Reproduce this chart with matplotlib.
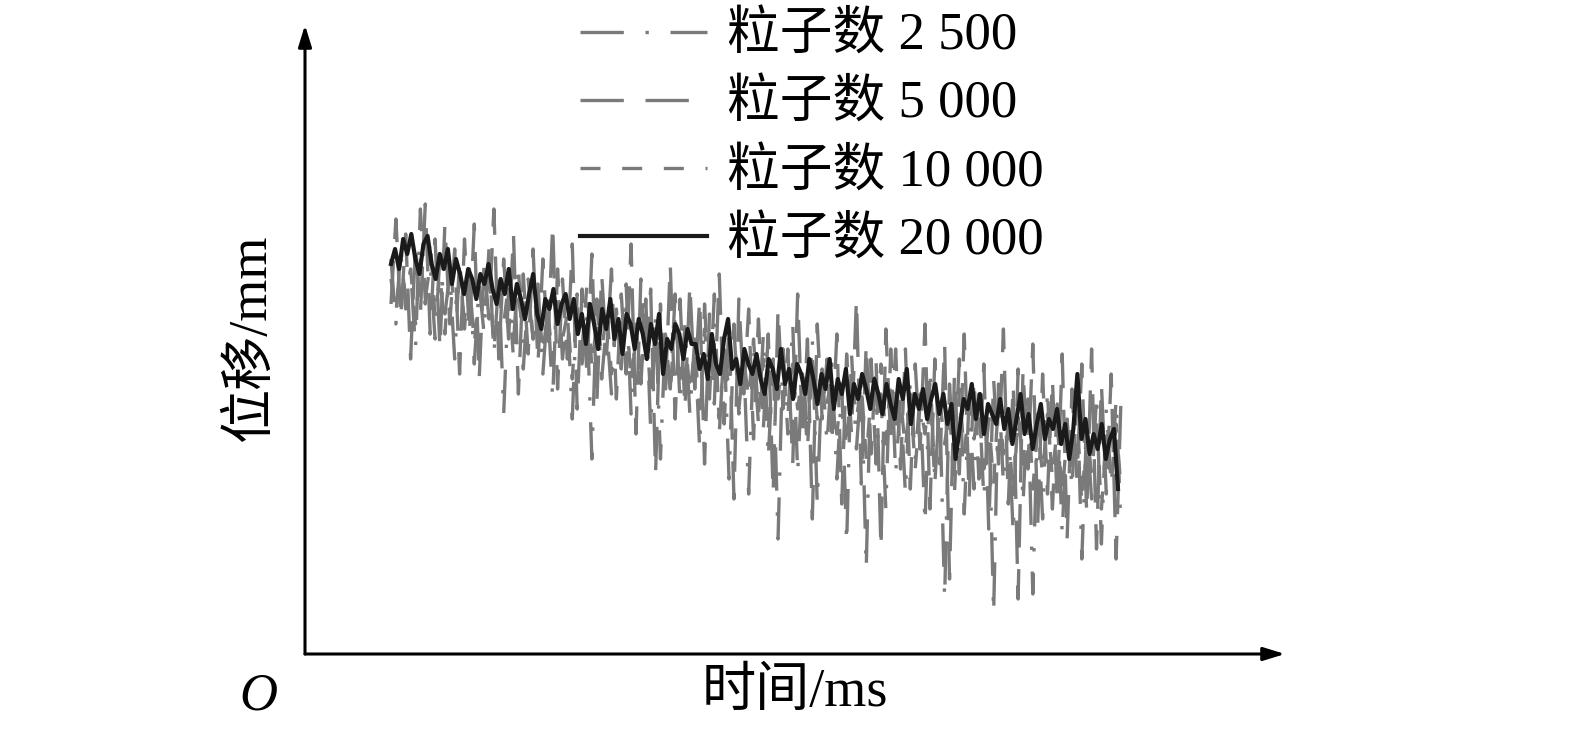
import numpy as np
import matplotlib
matplotlib.use("Agg")
import matplotlib.pyplot as plt

plt.rcParams['font.family'] = ['Liberation Serif', 'Noto Sans CJK SC']

# sample times (ms) and displacement (mm)
t_black = np.linspace(8.6, 81.3, 180)
t_gray = np.linspace(8.6, 81.6, 150)

disp_20000 = [
    3.90, 4.05, 3.85, 4.15, 4.00, 4.20, 3.95, 3.80, 4.10, 4.18, 3.90, 3.75, 4.00, 3.85, 4.05,
    3.70, 3.95, 3.80, 3.60, 3.85, 3.75, 3.55, 3.80, 3.70, 3.90, 3.65, 3.50, 3.75, 3.60, 3.85,
    3.45, 3.70, 3.55, 3.35, 3.60, 3.80, 3.40, 3.25, 3.55, 3.45, 3.65, 3.30, 3.50, 3.60, 3.35,
    3.55, 3.20, 3.40, 3.10, 3.50, 3.30, 3.05, 3.45, 3.25, 3.55, 3.15, 3.35, 3.00, 3.40, 3.30,
    3.05, 3.35, 3.20, 2.95, 3.30, 3.10, 3.40, 2.80, 3.15, 3.05, 3.30, 3.20, 2.95, 3.25, 3.10,
    3.10, 2.85, 3.00, 2.75, 3.20, 2.90, 2.80, 3.15, 3.35, 2.85, 2.95, 2.70, 3.05, 2.90, 2.80,
    3.00, 2.75, 2.60, 2.95, 2.85, 2.65, 3.05, 2.70, 2.85, 2.55, 2.90, 2.80, 2.60, 2.95, 2.75,
    2.50, 2.80, 2.65, 2.95, 2.45, 2.75, 2.60, 2.85, 2.40, 2.70, 2.55, 2.80, 2.65, 2.45, 2.75,
    2.60, 2.40, 2.70, 2.50, 2.35, 2.75, 2.55, 2.85, 2.30, 2.60, 2.45, 2.65, 2.35, 2.55, 2.70,
    2.40, 2.60, 2.30, 2.50, 1.95, 2.25, 2.55, 2.45, 2.70, 2.35, 2.60, 2.20, 2.50, 2.40, 2.30,
    2.55, 2.25, 2.45, 2.10, 2.35, 2.60, 2.20, 2.40, 2.05, 2.30, 2.50, 2.15, 2.35, 2.25, 2.45,
    2.10, 2.30, 1.95, 2.25, 2.80, 2.15, 2.35, 2.00, 2.20, 2.05, 2.30, 1.95, 2.15, 2.25, 1.65,
]

disp_2500 = [
    3.95, 3.30, 4.10, 3.45, 3.85, 3.05, 4.45, 3.55, 3.90, 3.15, 4.00, 3.40, 3.80, 2.95, 3.95,
    3.25, 3.85, 2.90, 3.70, 3.20, 4.05, 3.00, 3.75, 2.40, 3.65, 3.10, 3.90, 2.85, 3.60, 3.15,
    3.70, 2.80, 3.50, 2.55, 3.85, 2.95, 3.45, 2.35, 3.60, 2.90, 3.40, 1.95, 3.55, 2.75, 3.30,
    2.60, 3.45, 2.85, 3.70, 2.40, 3.30, 2.70, 3.55, 2.25, 3.35, 1.95, 3.20, 2.65, 3.60, 2.50,
    3.30, 2.40, 3.15, 2.05, 3.50, 2.55, 3.60, 2.20, 3.10, 1.75, 3.25, 2.45, 2.95, 1.60, 3.05,
    2.30, 3.20, 1.95, 2.95, 1.15, 3.05, 2.35, 3.30, 1.80, 2.90, 2.20, 3.15, 1.50, 2.85, 2.10,
    2.90, 1.75, 2.70, 1.10, 3.00, 2.05, 2.75, 0.85, 2.95, 1.90, 2.60, 1.45, 3.05, 1.80, 2.55,
    1.60, 2.75, 1.95, 2.60, 1.30, 2.85, 1.75, 2.50, 0.55, 2.70, 1.85, 2.95, 1.40, 2.55, 1.65,
    2.60, 1.55, 2.45, 0.40, 2.70, 1.70, 2.35, 1.20, 2.85, 1.50, 2.55, 0.60, 2.40, 1.35, 2.65,
    1.45, 2.50, 1.20, 2.35, 1.65, 2.75, 0.95, 2.30, 1.55, 2.60, 1.10, 2.45, 1.70, 2.55, 1.25,
]

disp_5000 = [
    3.50, 4.35, 3.35, 4.20, 2.95, 4.10, 3.40, 4.50, 3.20, 4.15, 3.05, 4.30, 3.30, 4.05, 2.80,
    4.15, 3.20, 4.30, 2.75, 3.90, 3.35, 4.45, 2.95, 3.95, 3.15, 4.20, 2.60, 3.80, 3.00, 4.05,
    2.90, 3.95, 3.05, 4.30, 2.65, 3.75, 2.95, 4.10, 2.45, 3.65, 2.80, 4.00, 2.50, 3.80, 3.00,
    3.85, 2.55, 3.60, 2.80, 4.10, 2.20, 3.75, 2.90, 3.65, 1.80, 3.50, 2.60, 3.90, 2.35, 3.55,
    2.45, 3.70, 2.65, 3.55, 1.90, 3.40, 2.50, 3.80, 2.30, 3.30, 1.55, 3.55, 2.60, 3.45, 2.15,
    3.35, 2.25, 3.20, 1.60, 3.45, 2.45, 3.05, 1.90, 3.60, 2.15, 3.15, 1.35, 3.30, 2.35, 2.95,
    2.10, 3.20, 1.50, 3.00, 2.20, 3.55, 1.70, 3.10, 2.00, 2.95, 1.05, 3.25, 2.15, 3.05, 1.85,
    3.05, 1.65, 2.90, 2.05, 3.30, 1.45, 2.95, 1.90, 3.10, 0.75, 2.80, 1.80, 3.20, 1.55, 2.75,
    1.75, 2.90, 1.25, 2.75, 1.90, 3.25, 1.50, 2.70, 0.55, 2.85, 1.85, 3.10, 1.30, 2.80, 1.60,
    2.75, 1.50, 3.00, 1.15, 2.65, 1.75, 2.90, 1.40, 3.05, 1.05, 2.70, 1.60, 2.80, 0.95, 2.55,
]

disp_10000 = [
    3.75, 3.40, 4.00, 3.55, 3.85, 3.30, 3.95, 3.50, 4.15, 3.35, 3.80, 3.20, 3.90, 3.45, 3.70,
    3.35, 3.75, 3.10, 3.65, 3.40, 3.85, 3.05, 3.60, 3.30, 3.70, 2.95, 3.55, 3.25, 3.75, 3.15,
    3.55, 3.00, 3.45, 2.90, 3.60, 3.15, 3.40, 2.75, 3.50, 3.05, 3.70, 2.85, 3.35, 3.00, 3.45,
    2.80, 3.35, 2.95, 3.50, 2.70, 3.25, 2.85, 3.45, 2.55, 3.30, 2.90, 3.20, 2.60, 3.40, 2.75,
    3.20, 2.60, 3.05, 2.45, 3.25, 2.70, 3.10, 2.35, 3.00, 2.65, 3.30, 2.40, 2.95, 2.55, 3.15,
    2.40, 2.95, 2.25, 2.85, 2.55, 3.05, 2.20, 2.90, 2.45, 2.80, 2.05, 2.95, 2.35, 2.75, 2.50,
    2.80, 2.20, 2.65, 2.05, 2.85, 2.35, 2.70, 1.95, 2.60, 2.30, 2.90, 2.10, 2.75, 2.25, 2.55,
    2.05, 2.60, 1.85, 2.50, 2.20, 2.70, 1.70, 2.55, 2.10, 2.45, 1.60, 2.65, 2.00, 2.50, 2.15,
    2.45, 1.85, 2.35, 1.70, 2.55, 2.00, 2.30, 1.55, 2.40, 1.90, 2.60, 1.65, 2.25, 1.80, 2.40,
    1.75, 2.30, 1.60, 2.20, 1.85, 2.45, 1.50, 2.25, 1.80, 2.35, 1.45, 2.15, 1.70, 2.30, 1.65,
]

labels = ['粒子数 2 500', '粒子数 5 000', '粒子数 10 000', '粒子数 20 000']

gray = '#7a7a7a'
fig = plt.figure(figsize=(15.75, 7.4), dpi=100)
ax = fig.add_axes([305 / 1575, 1 - 654 / 740, 980 / 1575, 629 / 740])

ax.plot(t_gray, disp_2500, color=gray, lw=2.4, linestyle=(0, (13, 6.5, 1, 6.5)), label=labels[0])
ax.plot(t_gray, disp_5000, color=gray, lw=2.4, linestyle=(0, (13, 6.5)), label=labels[1])
ax.plot(t_gray, disp_10000, color=gray, lw=2.4, linestyle=(0, (6, 6.5)), label=labels[2])
ax.plot(t_black, disp_20000, color='#1a1a1a', lw=3.0, label=labels[3])

ax.set_xlim(0, 98)
ax.set_ylim(0, 6.29)
for s in ax.spines.values():
    s.set_visible(False)
ax.set_xticks([])
ax.set_yticks([])

# axes drawn as arrows
arrow = dict(arrowstyle='-|>,head_length=1.3,head_width=0.4', lw=2.2, color='black', shrinkA=0, shrinkB=0)
ax.annotate('', xy=(1, 0), xytext=(0, 0), xycoords='axes fraction', arrowprops=arrow)
ax.annotate('', xy=(0, 1), xytext=(0, 0), xycoords='axes fraction', arrowprops=arrow)

fig.text(795 / 1575, 1 - 693 / 740, '时间/ms', fontsize=39, ha='center', va='center')
fig.text(252 / 1575, 1 - 337 / 740, '位移/mm', fontsize=39, ha='center', va='center', rotation=90)
fig.text(258 / 1575, 1 - 697 / 740, 'O', fontsize=38, style='italic', ha='center', va='center')

ax.legend(loc='upper left', bbox_to_anchor=(580 / 1575, 1 - 12 / 740), bbox_transform=fig.transFigure,
          frameon=False, fontsize=38, handlelength=2.4, handletextpad=0.38, labelspacing=0.36, borderpad=0,
          borderaxespad=0)

fig.savefig('out.png', dpi=100)
